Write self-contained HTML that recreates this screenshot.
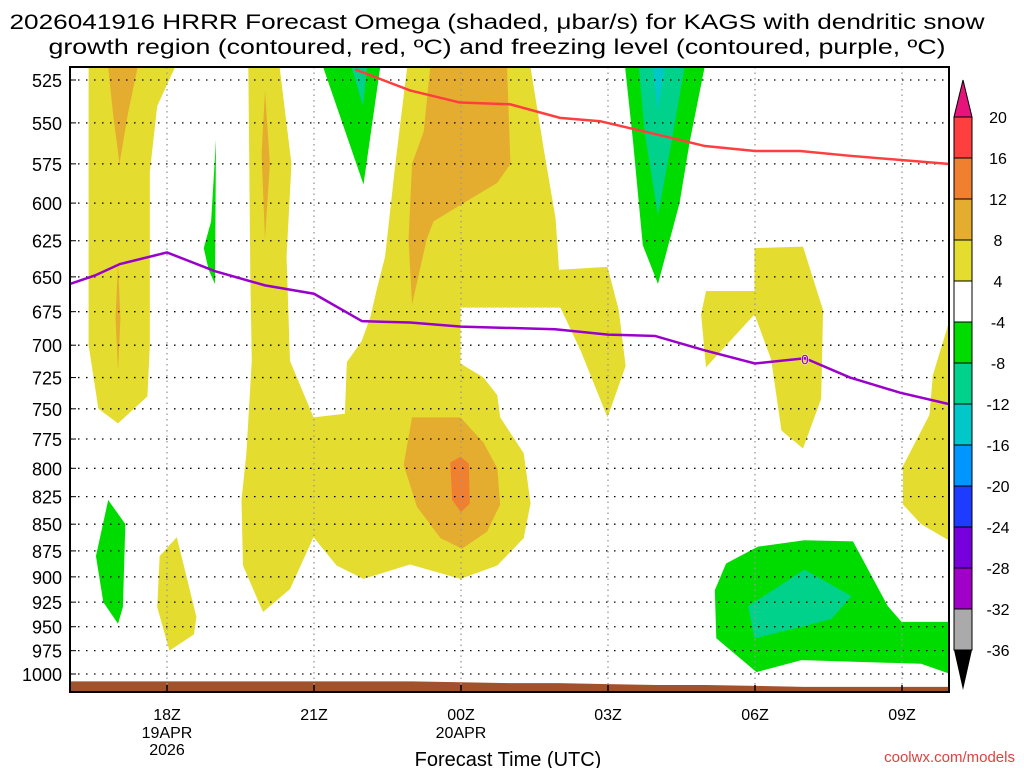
<!DOCTYPE html>
<html><head><meta charset="utf-8"><style>
body{margin:0;background:#fff;}
svg{display:block;font-family:"Liberation Sans",sans-serif;}
</style></head><body>
<svg id="c" width="1024" height="768" viewBox="0 0 1024 768">
<text x="497" y="29" text-anchor="middle" font-size="21" textLength="975" lengthAdjust="spacingAndGlyphs">2026041916 HRRR Forecast Omega (shaded, μbar/s) for KAGS with dendritic snow</text>
<text x="497" y="54" text-anchor="middle" font-size="21" textLength="897" lengthAdjust="spacingAndGlyphs">growth region (contoured, red, ºC) and freezing level (contoured, purple, ºC)</text>
<text x="508" y="766" text-anchor="middle" font-size="20">Forecast Time (UTC)</text>
<text x="1015" y="762" text-anchor="end" font-size="15" fill="#e04040">coolwx.com/models</text>
</svg>
<script>
const yLevels=[525,550,575,600,625,650,675,700,725,750,775,800,825,850,875,900,925,950,975,1000];
const xTicks=[0,3,6,9,12,15];
const xTickLabels=["18Z","21Z","00Z","03Z","06Z","09Z"];
const dateLabels={0:["19APR","2026"],6:["20APR"]};
const cbLevels=[20,16,12,8,4,-4,-8,-12,-16,-20,-24,-28,-32,-36];
const cbColors=["#ff3f3f","#f08030","#e5ad30","#e5dc30","#ffffff","#00dc00","#00d28c","#00c8c8","#0096ff","#1e3cff","#7800dc","#a000c8","#aaaaaa"];
const yellowAreas=[
[[-1.6,518],[0.16,518],[-0.2,540],[-0.35,580],[-0.35,700],[-0.4,740],[-1.0,762],[-1.4,750],[-1.6,700]],
[[1.66,518],[1.70,649],[1.73,712],[1.62,787],[1.52,828],[1.55,889],[1.96,935],[2.51,912],[2.99,862],[3.46,889],[4.01,902],[4.96,888],[5.99,902],[6.74,889],[7.28,863],[7.42,831],[7.28,787],[6.80,757],[6.74,739],[6.46,725],[5.99,714],[5.99,672],[8.03,672],[8.44,704],[8.99,757],[9.36,716],[9.22,674],[8.99,643],[8.0,645],[7.93,610],[7.69,566],[7.42,518],[4.90,518],[4.66,575],[4.45,636],[4.28,659],[4.15,679],[3.97,697],[3.67,713],[3.63,754],[2.99,757],[2.51,712],[2.44,636],[2.54,575],[2.30,518]],
[[0.2,862],[0.4,900],[0.6,940],[0.55,958],[0.05,975],[-0.2,930],[-0.15,880]],
[[11.0,660],[11.99,660],[11.99,677],[11.0,717],[10.9,677]],
[[11.99,630],[12.98,629],[13.39,674],[13.35,742],[12.98,783],[12.54,768],[12.33,711],[11.99,677]],
[[15.99,679],[15.63,723],[15.56,755],[15.02,798],[15.02,832],[15.39,850],[15.99,866]]
];
const orangeAreas=[
[[5.37,518],[6.94,518],[7.01,575],[6.74,587],[6.05,600],[5.44,612],[5.30,624],[5.0,670],[4.93,624],[5.0,575],[5.24,555]],
[[5.0,757],[5.99,757],[6.46,778],[6.74,800],[6.80,832],[6.53,857],[6.02,873],[5.58,863],[5.10,834],[4.83,797]],
[[2.0,531],[2.1,575],[2.0,624],[1.93,569]],
[[-1.2,518],[-0.6,518],[-0.8,545],[-0.97,575],[-1.1,545]],
[[-1.0,640],[-0.95,680],[-1.0,720],[-1.05,680]]
];
const darkOrangeAreas=[[[5.78,795],[5.99,790],[6.16,796],[6.18,831],[6.0,839],[5.82,828]]];
const greenAreas=[
[[3.19,518],[4.35,518],[4.01,588]],
[[9.35,518],[10.97,518],[10.67,561],[10.46,600],[10.02,655],[9.71,628],[9.51,561]],
[[1.0,560],[0.98,655],[0.85,645],[0.75,630],[0.9,612]],
[[-1.45,880],[-1.2,828],[-0.85,850],[-0.9,930],[-1.0,947],[-1.3,925]],
[[11.18,913],[11.41,887],[12.06,871],[13.01,865],[14.0,866],[14.71,929],[14.99,945],[15.99,945],[15.99,1000],[15.39,989],[12.95,985],[12.03,998],[11.21,962]]
];
const tealAreas=[
[[3.77,518],[4.08,518],[4.0,540]],
[[9.63,518],[10.56,518],[10.33,556],[10.02,608],[9.75,556]],
[[11.86,929],[13.01,893],[13.97,919],[13.56,942],[12.95,950],[11.99,962]]
];
const cyanAreas=[[[9.92,518],[10.16,518],[10.01,543]]];
const redLine=[[3.84,519],[4.96,531],[5.98,538],[7.0,539],[8.02,547],[8.84,549],[9.86,556],[10.98,564],[12,567],[12.92,567],[13.94,570],[15.94,575]];
const purpleLine=[[-1.98,655],[-1.47,649],[-0.96,641],[0,633],[0.98,646],[2,656],[3,662],[3.98,682],[4.96,683],[6,686],[7.92,688],[9,692],[9.96,693],[10.98,704],[12,714],[13.02,710],[13.94,725],[14.96,737],[15.94,746]];
const surfHours=[-2,-1,0,1,2,3,4,5,6,7,8,9,10,11,12,13,14,15,16];
const surfP=[1008,1008,1008,1008,1008,1008,1008,1008,1009,1010,1010,1011,1012,1012,1013,1014,1014,1014,1014];

const L=70,R=949,T=67,B=692;
const X=h=>167+h*49;
const Y=p=>80+Math.log(p/525)/Math.log(1000/525)*594;
const NS="http://www.w3.org/2000/svg";
const svg=document.getElementById('c');
function mk(tag,attrs,parent){const e=document.createElementNS(NS,tag);for(const k in attrs)e.setAttribute(k,attrs[k]);(parent||svg).appendChild(e);return e;}
const defs=mk('defs',{});
const cp=mk('clipPath',{id:'pc'},defs);mk('rect',{x:L,y:T,width:R-L,height:B-T},cp);
const plot=mk('g',{'clip-path':'url(#pc)'});


function areas(list,color,name){list.forEach((a,i)=>{const e=mk('polygon',{points:a.map(q=>X(q[0])+','+Y(q[1])).join(' '),fill:color},plot);

});}
areas(yellowAreas,'#e5dc30','omega-4-8');
areas(orangeAreas,'#e5ad30','omega-8-12');
areas(darkOrangeAreas,'#f08030','omega-12-16');
areas(greenAreas,'#00dc00','omega-neg4-neg8');
areas(tealAreas,'#00d28c','omega-neg8-neg12');
areas(cyanAreas,'#00c8c8','omega-neg12-neg16');
// ground
let gp=surfHours.map((h,i)=>X(h)+','+Y(surfP[i])).join(' ')+' '+X(16)+','+B+' '+X(-2)+','+B;
const g=mk('polygon',{points:gp,fill:'#a0522d'},plot);


// grid
yLevels.forEach(p=>{const e=mk('line',{x1:L,x2:R,y1:Y(p),y2:Y(p),stroke:'#000','stroke-width':1.3,'stroke-dasharray':'1.5 6.5'},plot);

});
xTicks.forEach(h=>{const e=mk('line',{x1:X(h),x2:X(h),y1:T,y2:B,stroke:'#999','stroke-width':1.3,'stroke-dasharray':'1.5 4'},plot);

});
function line(data,color,name){const e=mk('polyline',{points:data.map(q=>X(q[0])+','+Y(q[1])).join(' '),fill:'none',stroke:color,'stroke-width':2.5},plot);

}
line(redLine,'#ff3f3f','dendritic-contour-red');
line(purpleLine,'#9900cc','freezing-level-contour');
const zl=mk('text',{x:X(13.02),y:Y(710)+6,'text-anchor':'middle','font-size':15,fill:'#9900cc','font-weight':'bold',stroke:'#fff','stroke-width':0.5},plot);
zl.textContent='0';


// frame
const fr=mk('rect',{x:L,y:T,width:R-L,height:B-T,fill:'none',stroke:'#000','stroke-width':2});


yLevels.forEach(p=>{const t=mk('text',{x:62,y:Y(p)+7,'text-anchor':'end','font-size':18});t.textContent=p;


mk('line',{x1:L,x2:L+6,y1:Y(p),y2:Y(p),stroke:'#000','stroke-width':1});});
xTicks.forEach((h,i)=>{mk('line',{x1:X(h),x2:X(h),y1:B,y2:B-7,stroke:'#000','stroke-width':1.5});
const t=mk('text',{x:X(h),y:720,'text-anchor':'middle','font-size':16});t.textContent=xTickLabels[i];


(dateLabels[h]||[]).forEach((s,j)=>{const d=mk('text',{x:X(h),y:738+j*17,'text-anchor':'middle','font-size':16});d.textContent=s;

});});
// colorbar
const cb=mk('g',{});


const cx=954,cw=18,cy=v=>{const i=cbLevels.indexOf(v);return 117+i*41;};
mk('polygon',{points:`${cx},${cy(20)} ${cx+cw},${cy(20)} ${cx+cw/2},80`,fill:'#e6147a',stroke:'#000','stroke-width':1},cb);
for(let i=0;i<cbColors.length;i++){mk('rect',{x:cx,y:cy(cbLevels[i]),width:cw,height:cy(cbLevels[i+1])-cy(cbLevels[i]),fill:cbColors[i],stroke:'#000','stroke-width':1},cb);}
mk('polygon',{points:`${cx},${cy(-36)} ${cx+cw},${cy(-36)} ${cx+cw/2},690`,fill:'#000'},cb);
cbLevels.forEach(v=>{const t=mk('text',{x:998,y:cy(v)+6,'text-anchor':'middle','font-size':16},cb);t.textContent=v;

});
</script>
</body></html>
